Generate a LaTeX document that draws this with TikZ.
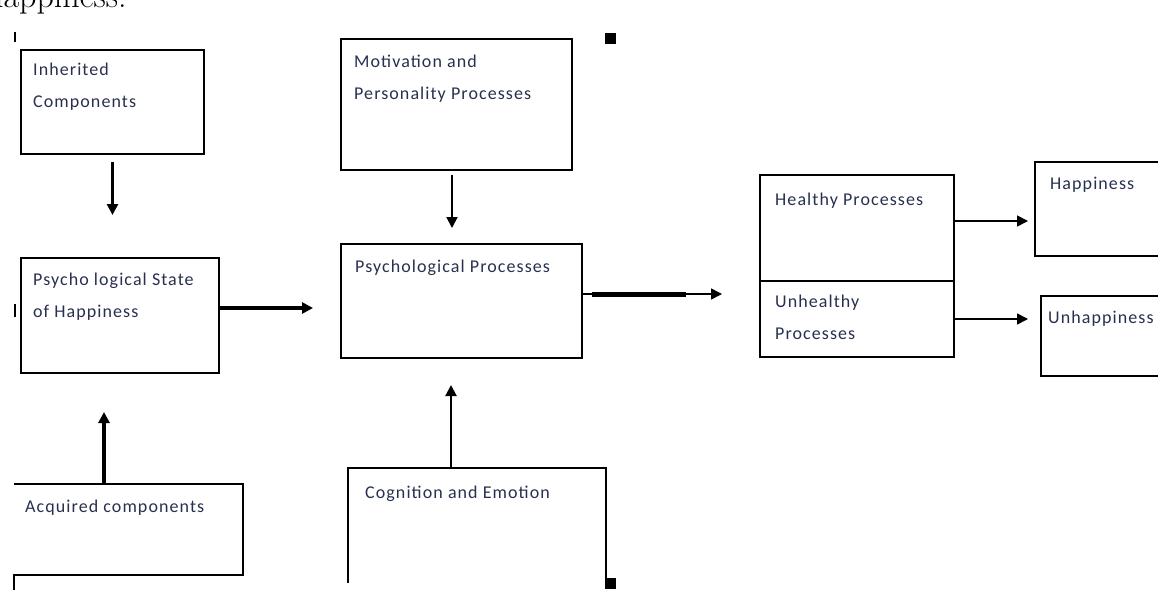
\documentclass[tikz,border=0pt]{standalone}
\usepackage{fontspec}
\newfontfamily\lblfont[LetterSpace=6]{Carlito}
\usetikzlibrary{arrows.meta}
\definecolor{txt}{RGB}{40,48,80}
\begin{document}
\begin{tikzpicture}[x=1pt,y=-1pt,
  box/.style={draw, line width=2pt, inner sep=0pt, anchor=north west},
  lbl/.style={anchor=base west, inner sep=0pt, text=txt, align=left,
    font=\lblfont\fontsize{18}{32}\selectfont},
  tip/.style={-{Triangle[length=11pt,width=11pt]}},
  thinarr/.style={tip, line width=1.6pt},
  midarr/.style={tip, line width=2pt},
  fatarr/.style={tip, line width=3.5pt}]
\useasboundingbox (0,0) rectangle (1158,613);
% heading fragment
\node[anchor=base west, inner sep=0pt, font=\fontsize{34}{40}\selectfont] (head) at (-14,7) {happiness.};
% stray marks
\draw[line width=2pt] (15,32) -- (15,42);
\draw[line width=2.5pt] (15,304) -- (15,317);
\fill (605,33) rectangle (616,44);
% boxes
\node[box, minimum width=183, minimum height=104] (inh) at (20,49) {};
\node[lbl] (inhT) at (33,107) {Inherited\\Components};
\node[box, minimum width=198, minimum height=115] (pss) at (20,257) {};
\node[lbl] (pssT) at (33,317) {Psycho logical State\\of Happiness};
\node[box, minimum width=231, minimum height=131] (mot) at (340,38) {};
\node[lbl] (motT) at (354,99) {Motivation and\\Personality Processes};
\node[box, minimum width=241, minimum height=114] (pp) at (340,243) {};
\node[lbl] (ppT) at (355,272) {Psychological Processes};
\node[box, minimum width=194, minimum height=106] (hp) at (759,174) {};
\node[lbl] (hpT) at (775,205) {Healthy Processes};
\node[box, minimum width=194, minimum height=76] (up) at (759,280) {};
\node[lbl] (upT) at (775,339) {Unhealthy\\Processes};
\node[box, minimum width=140, minimum height=94] (hap) at (1034,161) {};
\node[lbl] (hapT) at (1050,189) {Happiness};
\node[box, minimum width=140, minimum height=80] (unh) at (1040,295) {};
\node[lbl] (unhT) at (1048,323) {Unhappiness};
% acquired (partly cut)
\coordinate (acqTL) at (14,484);
\coordinate (acqtop) at (104,484);
\draw[line width=2pt] (acqTL) -- (243,484) -- (243,575) -- (14,575) -- (14,590);
\node[lbl] (acqT) at (25,512) {Acquired components};
% cognition (partly cut)
\coordinate (cogtop) at (451,468);
\draw[line width=2pt] (348,583) -- (348,468) -- (606,468) -- (606,582);
\fill (605,578) rectangle (616,589);
\node[lbl] (cogT) at (365,498) {Cognition and Emotion};
% connectors
\draw[fatarr, line width=3pt, shorten <=7pt, shorten >=42pt] (inh.south) -- (inh.south |- pss.north);
\draw[fatarr, line width=4pt, shorten >=27pt] ([yshift=7.5pt]pss.east) -- ([yshift=7.5pt]pss.east -| pp.west);
\draw[fatarr, line width=4pt, shorten >=38pt] (acqtop) -- (acqtop |- pss.south);
\draw[midarr, shorten <=4pt, shorten >=15pt] ([xshift=-4.5pt]mot.south) -- ([xshift=-4.5pt]mot.south |- pp.north);
\draw[midarr, shorten >=26pt] (cogtop) -- (cogtop |- pp.south);
\coordinate (ppout) at ([yshift=7pt]pp.east);
\draw[thinarr, shorten >=37pt] (ppout) -- (ppout -| hp.west);
\draw[line width=5pt] ([xshift=9pt]ppout) -- ([xshift=103pt]ppout);
\draw[thinarr, shorten >=6pt] ([yshift=7pt]hp.east) -- ([yshift=7pt]hp.east -| hap.west);
\draw[thinarr, shorten >=12pt] (up.east) -- (up.east -| unh.west);
\end{tikzpicture}
\end{document}
